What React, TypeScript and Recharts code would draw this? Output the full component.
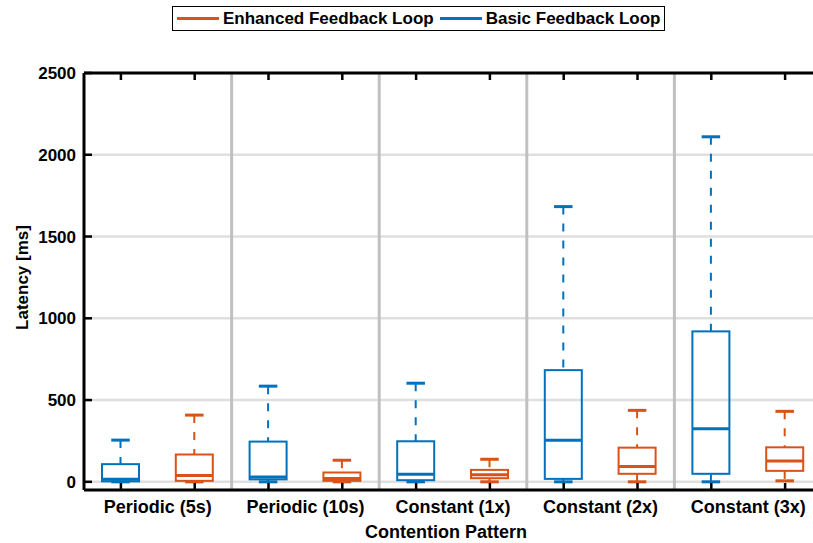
import React from "react";
import {
  ComposedChart,
  Bar,
  XAxis,
  YAxis,
  CartesianGrid,
  ReferenceLine,
  Legend,
} from "recharts";

const BLUE = "#0072BD";
const ORANGE = "#D95319";
const FONT = "'Liberation Sans', Arial, Helvetica, sans-serif";

const groups = ["Periodic (5s)", "Periodic (10s)", "Constant (1x)", "Constant (2x)", "Constant (3x)"];

// Basic Feedback Loop (blue, left box of each pair)
const basicMin = [0, 0, 0, 0, 0];
const basicQ1 = [3, 15, 10, 18, 49];
const basicMedian = [15, 30, 47, 254, 325];
const basicQ3 = [108, 246, 248, 683, 920];
const basicMax = [255, 585, 603, 1683, 2110];

// Enhanced Feedback Loop (orange, right box of each pair)
const enhancedMin = [0, 0, 0, 0, 6];
const enhancedQ1 = [6, 6, 22, 49, 67];
const enhancedMedian = [38, 20, 43, 93, 128];
const enhancedQ3 = [167, 57, 73, 209, 211];
const enhancedMax = [408, 132, 138, 437, 431];

const yTicks = [0, 500, 1000, 1500, 2000, 2500];

const legendItems = [
  { name: "Enhanced Feedback Loop", color: ORANGE },
  { name: "Basic Feedback Loop", color: BLUE },
];

const rows = groups.flatMap((g, i) => [
  {
    key: `basic-${i}`,
    group: g,
    series: "basic",
    min: basicMin[i],
    q1: basicQ1[i],
    median: basicMedian[i],
    q3: basicQ3[i],
    max: basicMax[i],
  },
  {
    key: `enhanced-${i}`,
    group: g,
    series: "enhanced",
    min: enhancedMin[i],
    q1: enhancedQ1[i],
    median: enhancedMedian[i],
    q3: enhancedQ3[i],
    max: enhancedMax[i],
  },
]);

// group separators sit at the right edge of every enhanced box's band (except the last)
const separatorKeys = rows.filter((r) => r.series === "enhanced").slice(0, -1).map((r) => r.key);

function BoxShape(props: any) {
  const { x, y, width, height } = props;
  const d = props.payload ?? props;
  const color = d.series === "basic" ? BLUE : ORANGE;
  const top = Math.min(y, y + height);
  const h = Math.abs(height);
  const span = d.max - d.min || 1;
  const py = (v: number) => top + (h * (d.max - v)) / span;
  const cx = x + width / 2;
  const cap = width / 4;
  return (
    <g>
      <line x1={cx} x2={cx} y1={py(d.max)} y2={py(d.q3)} stroke={color} strokeWidth={2} strokeDasharray="8 9" />
      <line x1={cx} x2={cx} y1={py(d.q1)} y2={py(d.min)} stroke={color} strokeWidth={2} strokeDasharray="8 9" />
      <line x1={cx - cap} x2={cx + cap} y1={py(d.max)} y2={py(d.max)} stroke={color} strokeWidth={3} />
      <line x1={cx - cap} x2={cx + cap} y1={py(d.min)} y2={py(d.min)} stroke={color} strokeWidth={3} />
      <rect x={x} y={py(d.q3)} width={width} height={py(d.q1) - py(d.q3)} fill="none" stroke={color} strokeWidth={2} />
      <line x1={x} x2={x + width} y1={py(d.median)} y2={py(d.median)} stroke={color} strokeWidth={3} />
    </g>
  );
}

function BottomTick(props: any) {
  const { x, y, payload } = props;
  const row = rows.find((r) => r.key === payload.value);
  const half = payload.offset ?? 0;
  return (
    <g>
      <line x1={x} x2={x} y1={y} y2={y - 7} stroke="#000" strokeWidth={2.5} />
      {row && row.series === "basic" && (
        <text x={x + half} y={y + 23} textAnchor="middle" fontFamily={FONT} fontWeight="bold" fontSize={18} fill="#000">
          {row.group}
        </text>
      )}
    </g>
  );
}

function TopTick(props: any) {
  const { x, y } = props;
  return <line x1={x} x2={x} y1={y} y2={y + 7} stroke="#000" strokeWidth={2.5} />;
}

function LeftTick(props: any) {
  const { x, y, payload } = props;
  return (
    <g>
      <line x1={x} x2={x + 8} y1={y} y2={y} stroke="#000" strokeWidth={2.5} />
      <text x={x - 8} y={y + 6} textAnchor="end" fontFamily={FONT} fontWeight="bold" fontSize={17} fill="#000">
        {payload.value}
      </text>
    </g>
  );
}

function renderYLabel(p: any) {
  const vb = p.viewBox;
  const lx = vb.x + 28;
  const ly = vb.y + vb.height / 2 - 4;
  return (
    <text x={lx} y={ly} transform={`rotate(-90 ${lx} ${ly})`} textAnchor="middle" fontFamily={FONT} fontWeight="bold" fontSize={17} fill="#000">
      Latency [ms]
    </text>
  );
}

function renderXLabel(p: any) {
  const vb = p.viewBox;
  return (
    <text x={vb.x + vb.width / 2 - 7} y={vb.y + 48} textAnchor="middle" fontFamily={FONT} fontWeight="bold" fontSize={18} fill="#000">
      Contention Pattern
    </text>
  );
}

function renderLegend() {
  return (
    <div
      style={{
        display: "inline-flex",
        alignItems: "center",
        border: "1.5px solid #000",
        background: "#fff",
        height: 23,
        padding: "0 4px 0 4px",
        fontFamily: FONT,
        fontWeight: "bold",
        fontSize: 17,
        color: "#000",
        whiteSpace: "nowrap",
      }}
    >
      {legendItems.map((it, i) => (
        <span key={it.name} style={{ display: "inline-flex", alignItems: "center", marginRight: i === 0 ? 6 : 0 }}>
          <span style={{ display: "inline-block", width: 42, height: 3, background: it.color, marginRight: 4 }} />
          {it.name}
        </span>
      ))}
    </div>
  );
}

export default function App() {
  return (
    <div style={{ position: "absolute", left: 0, top: 0, width: 813, height: 543, overflow: "hidden", background: "#fff" }}>
      <ComposedChart width={840} height={543} data={rows} margin={{ top: 72, right: 18, bottom: 0, left: 0 }}>
        <CartesianGrid vertical={false} stroke="#dfdfdf" strokeWidth={2.5} />
        <XAxis
          dataKey="key"
          type="category"
          interval={0}
          tickSize={0}
          tickMargin={0}
          tick={<BottomTick />}
          axisLine={{ stroke: "#000", strokeWidth: 3 }}
          height={53}
          label={renderXLabel}
        />
        <XAxis
          xAxisId="top"
          dataKey="key"
          type="category"
          orientation="top"
          interval={0}
          tickSize={0}
          tickMargin={0}
          tick={<TopTick />}
          axisLine={{ stroke: "#000", strokeWidth: 3 }}
          height={1}
        />
        <YAxis
          type="number"
          domain={[-50, 2500]}
          ticks={yTicks}
          interval={0}
          tickSize={0}
          tickMargin={0}
          tick={<LeftTick />}
          axisLine={{ stroke: "#000", strokeWidth: 3 }}
          width={84}
          label={renderYLabel}
        />
        {separatorKeys.map((k) => (
          <ReferenceLine key={k} x={k} position="end" stroke="#c0c0c0" strokeWidth={3} />
        ))}
        <Legend verticalAlign="middle" content={renderLegend} wrapperStyle={{ top: 6, left: 172, width: "auto" }} />
        <Bar
          dataKey={(d: any) => [d.min, d.max]}
          barSize={37}
          shape={<BoxShape />}
          isAnimationActive={false}
        />
      </ComposedChart>
    </div>
  );
}
